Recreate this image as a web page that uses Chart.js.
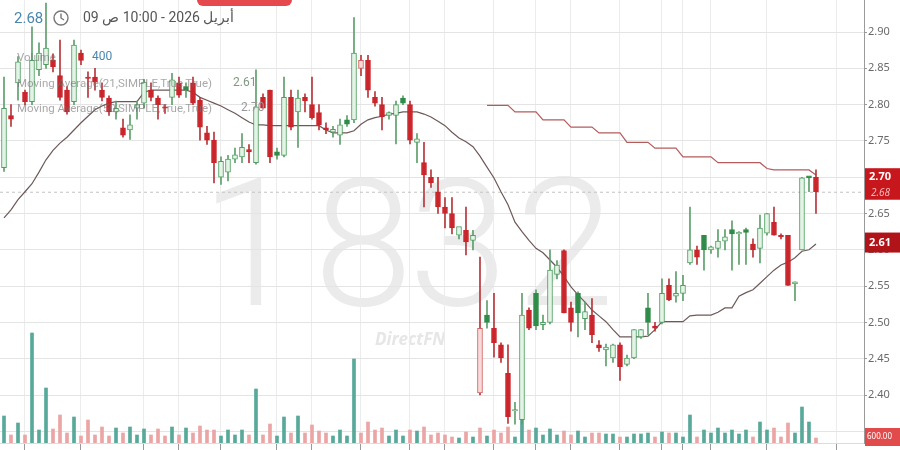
<!DOCTYPE html>
<html>
<head>
<meta charset="utf-8">
<script src="https://cdn.jsdelivr.net/npm/chart.js@4.4.1/dist/chart.umd.min.js"></script>
<style>
  body { margin: 0; background: #fff; font-family: Roboto, "Noto Sans", sans-serif; }
  #wrap { position: relative; width: 900px; height: 450px; overflow: hidden; }
  #chart { position: absolute; left: 0; top: 0; }
  .ov { position: absolute; white-space: nowrap; z-index: 2; }
  .leg { color: rgba(110, 110, 110, 0.6); font-size: 11.5px; }
</style>
</head>
<body>
<div id="wrap">
  <canvas id="chart" width="900" height="450"></canvas>
  <div class="ov" style="left:197px;top:-20px;width:95px;height:26px;background:#e5484d;border-radius:6px;"></div>
  <div class="ov" style="left:14px;top:9px;font-size:15px;color:#4a86ad;">2.68</div>
  <svg class="ov" style="left:52px;top:9px;" width="18" height="18" viewBox="0 0 18 18">
    <circle cx="9" cy="9" r="7" fill="none" stroke="#777" stroke-width="1.4"/>
    <path d="M9 4.5 V9 L12 11" fill="none" stroke="#777" stroke-width="1.4"/>
  </svg>
  <div class="ov" dir="rtl" style="left:83px;top:9px;font-size:14px;color:#555;">أبريل 2026 - 10:00 ص 09</div>
  <div class="ov leg" style="left:17px;top:50px;">Volume</div>
  <div class="ov" style="left:92px;top:49px;font-size:12px;color:#4a86ad;">400</div>
  <div class="ov leg" style="left:17px;top:76px;">Moving Average(21,SIMPLE,True,True)</div>
  <div class="ov" style="left:233px;top:75px;font-size:12px;color:#7f9a82;">2.61</div>
  <div class="ov leg" style="left:17px;top:101px;">Moving Average(50,SIMPLE,True,True)</div>
  <div class="ov" style="left:241px;top:100px;font-size:12px;color:#999;">2.70</div>
</div>
<script>
// daily candles, left to right
const opens = [2.713,2.785,2.830,2.817,2.804,2.848,2.855,2.861,2.840,2.820,
  2.804,2.871,2.838,2.838,2.820,2.809,2.790,2.768,2.765,2.795,
  2.802,2.820,2.809,2.797,2.810,2.830,2.825,2.830,2.806,2.761,
  2.751,2.700,2.707,2.725,2.728,2.738,2.720,2.810,2.820,2.735,
  2.730,2.810,2.790,2.810,2.800,2.789,2.768,2.762,2.758,2.779,
  2.779,2.850,2.861,2.810,2.800,2.785,2.785,2.809,2.800,2.748,
  2.720,2.700,2.680,2.659,2.650,2.620,2.627,2.613,2.403,2.510,
  2.492,2.469,2.430,2.378,2.366,2.517,2.540,2.497,2.500,2.566,
  2.599,2.520,2.540,2.505,2.510,2.469,2.462,2.451,2.469,2.442,
  2.451,2.480,2.520,2.495,2.500,2.551,2.536,2.540,2.582,2.600,
  2.620,2.600,2.602,2.612,2.628,2.622,2.628,2.608,2.602,2.623,
  2.638,2.620,2.620,2.553,2.600,2.702,2.700];
const highs = [2.838,2.800,2.866,2.820,2.907,2.885,2.940,2.870,2.889,2.825,
  2.889,2.875,2.845,2.850,2.830,2.812,2.805,2.780,2.786,2.805,
  2.835,2.830,2.812,2.800,2.843,2.838,2.830,2.838,2.810,2.770,
  2.762,2.728,2.730,2.740,2.760,2.745,2.848,2.815,2.820,2.740,
  2.838,2.820,2.820,2.815,2.838,2.800,2.775,2.770,2.780,2.785,
  2.920,2.868,2.868,2.818,2.810,2.790,2.805,2.812,2.805,2.760,
  2.748,2.710,2.700,2.672,2.672,2.630,2.659,2.627,2.590,2.530,
  2.540,2.472,2.469,2.390,2.540,2.520,2.545,2.510,2.600,2.585,
  2.600,2.528,2.542,2.528,2.533,2.475,2.470,2.470,2.472,2.455,
  2.490,2.490,2.540,2.500,2.560,2.560,2.570,2.565,2.659,2.605,
  2.620,2.605,2.628,2.628,2.640,2.625,2.630,2.615,2.648,2.650,
  2.659,2.622,2.620,2.556,2.700,2.701,2.710];
const lows = [2.708,2.770,2.806,2.800,2.800,2.840,2.850,2.845,2.806,2.787,
  2.800,2.855,2.810,2.820,2.805,2.785,2.780,2.755,2.752,2.780,
  2.795,2.805,2.780,2.788,2.800,2.810,2.810,2.800,2.751,2.745,
  2.692,2.690,2.695,2.720,2.720,2.720,2.718,2.795,2.720,2.725,
  2.728,2.765,2.741,2.790,2.780,2.765,2.760,2.755,2.745,2.770,
  2.775,2.840,2.810,2.798,2.765,2.780,2.746,2.800,2.746,2.720,
  2.659,2.686,2.650,2.630,2.622,2.615,2.593,2.600,2.400,2.492,
  2.452,2.445,2.361,2.360,2.360,2.490,2.490,2.490,2.498,2.560,
  2.513,2.488,2.480,2.490,2.472,2.460,2.440,2.445,2.420,2.440,
  2.450,2.478,2.483,2.488,2.498,2.530,2.528,2.530,2.580,2.580,
  2.572,2.595,2.590,2.600,2.572,2.580,2.580,2.590,2.582,2.620,
  2.620,2.615,2.551,2.530,2.600,2.680,2.650];
const closes = [2.795,2.780,2.859,2.804,2.861,2.871,2.878,2.852,2.810,2.790,
  2.882,2.861,2.836,2.831,2.810,2.790,2.795,2.758,2.772,2.800,
  2.831,2.810,2.800,2.795,2.834,2.813,2.820,2.802,2.769,2.751,
  2.720,2.722,2.725,2.731,2.741,2.735,2.797,2.795,2.728,2.730,
  2.810,2.769,2.809,2.805,2.782,2.772,2.765,2.766,2.772,2.773,
  2.871,2.861,2.820,2.802,2.783,2.789,2.800,2.802,2.751,2.753,
  2.703,2.692,2.659,2.650,2.630,2.632,2.611,2.620,2.492,2.500,
  2.472,2.451,2.370,2.380,2.510,2.492,2.495,2.500,2.572,2.579,
  2.513,2.500,2.513,2.515,2.483,2.465,2.466,2.469,2.439,2.451,
  2.490,2.490,2.500,2.492,2.540,2.531,2.540,2.551,2.600,2.590,
  2.600,2.604,2.612,2.618,2.622,2.624,2.624,2.600,2.630,2.650,
  2.620,2.618,2.551,2.556,2.699,2.699,2.680];
const volumes = [270,80,200,80,1100,130,550,140,280,100,
  260,70,230,80,160,70,150,100,160,80,
  140,80,140,70,160,80,150,100,170,130,
  130,70,130,80,130,80,540,80,190,70,
  260,100,270,100,180,120,100,70,130,70,
  840,100,210,130,150,70,130,70,130,120,
  160,80,100,80,60,50,110,60,150,70,
  130,100,160,60,260,130,150,80,140,80,
  120,80,120,60,100,100,90,90,60,60,
  90,90,100,60,110,100,100,60,280,60,
  130,100,150,100,130,90,130,60,210,130,
  150,60,200,100,360,210,50];
// moving averages as drawn
const ma21 = [2.644,2.655,2.669,2.680,2.691,2.707,2.724,2.737,2.747,2.755,
  2.765,2.775,2.784,2.793,2.798,2.802,2.804,2.804,2.804,2.804,
  2.817,2.820,2.820,2.820,2.820,2.820,2.820,2.817,2.810,2.806,
  2.802,2.798,2.793,2.788,2.782,2.776,2.772,2.772,2.771,2.771,
  2.771,2.771,2.771,2.771,2.771,2.771,2.765,2.761,2.761,2.761,
  2.764,2.773,2.779,2.782,2.784,2.787,2.788,2.790,2.790,2.790,
  2.787,2.783,2.777,2.771,2.762,2.754,2.749,2.742,2.729,2.714,
  2.699,2.680,2.662,2.638,2.625,2.613,2.602,2.596,2.586,2.576,
  2.563,2.549,2.538,2.528,2.517,2.509,2.501,2.490,2.480,2.480,
  2.480,2.480,2.481,2.490,2.501,2.501,2.501,2.501,2.509,2.510,
  2.510,2.510,2.514,2.520,2.520,2.536,2.541,2.545,2.554,2.563,
  2.572,2.579,2.583,2.589,2.598,2.600,2.608];
const ma50 = [null,null,null,null,null,null,null,null,null,null,
  null,null,null,null,null,null,null,null,null,null,
  null,null,null,null,null,null,null,null,null,null,
  null,null,null,null,null,null,null,null,null,null,
  null,null,null,null,null,null,null,null,null,null,
  null,null,null,null,null,null,null,null,null,null,
  null,null,null,null,null,null,null,null,null,2.799,
  2.799,2.799,2.799,2.790,2.790,2.790,2.790,2.779,2.779,2.779,
  2.779,2.769,2.769,2.769,2.769,2.761,2.761,2.761,2.761,2.748,
  2.748,2.748,2.748,2.740,2.740,2.740,2.740,2.728,2.728,2.728,
  2.728,2.728,2.720,2.720,2.720,2.720,2.720,2.720,2.720,2.712,
  2.710,2.710,2.710,2.710,2.710,2.710,2.703];
const priceTicks = [2.35,2.40,2.45,2.50,2.55,2.60,2.65,2.70,2.75,2.80,2.85,2.90];
const dateLines = [0,6,16,24,26,36,42,46,56,60,66,74,78,84,92,96,98,104,114];

const idx = opens.map((_, i) => i);
const last = closes.length - 1;
const isUp = i => i === 0 || closes[i] >= closes[i - 1];
const isHollow = i => closes[i] > opens[i];

const bodyFill = idx.map(i => isHollow(i) ? (isUp(i) ? '#e3f3e6' : '#f8dada') : (isUp(i) ? '#2e8b48' : '#c9252b'));
const bodyBorder = idx.map(i => isUp(i) ? (isHollow(i) ? '#4f9e61' : '#2e8b48') : (isHollow(i) ? '#d26262' : '#c9252b'));
const wickColor = idx.map(i => isUp(i) ? '#5d9f6b' : '#b8353a');
const volColor = idx.map(i => isUp(i) ? '#58a99a' : '#eba5a5');

const overlay = {
  id: 'overlay',
  beforeDraw(chart) {
    const ctx = chart.ctx;
    ctx.save();
    // watermark, digit by digit
    ctx.fillStyle = '#ebebeb';
    ctx.font = '300 178px Roboto';
    ctx.textAlign = 'center';
    ctx.textBaseline = 'alphabetic';
    const wmX = [250, 363, 458, 565];
    '1832'.split('').forEach((d, k) => ctx.fillText(d, wmX[k], 305));
    ctx.fillStyle = '#e6e6e6';
    ctx.font = 'italic bold 17px "Open Sans"';
    ctx.textBaseline = 'middle';
    ctx.fillText('DirectFN', 410, 340);
    ctx.restore();
  },
  beforeDatasetsDraw(chart) {
    const ctx = chart.ctx, a = chart.chartArea;
    const y = chart.scales.y.getPixelForValue(closes[last]);
    ctx.save();
    ctx.strokeStyle = '#c4c4c4';
    ctx.setLineDash([3, 3]);
    ctx.beginPath();
    ctx.moveTo(a.left, y + 0.5);
    ctx.lineTo(a.right, y + 0.5);
    ctx.stroke();
    ctx.restore();
  },
  afterDraw(chart) {
    const ctx = chart.ctx, ys = chart.scales.y;
    const x0 = chart.chartArea.right + 1;
    const yMa = ys.getPixelForValue(2.70), yC = ys.getPixelForValue(closes[last]);
    const y21 = ys.getPixelForValue(2.61);
    ctx.save();
    ctx.fillStyle = '#c8161d';
    ctx.fillRect(x0, yMa - 9, 900 - x0, yC + 8 - (yMa - 9));
    ctx.fillStyle = '#b01419';
    ctx.fillRect(x0, y21 - 10, 900 - x0, 20);
    ctx.fillStyle = '#e24b4b';
    ctx.fillRect(x0, 428, 900 - x0, 18);
    ctx.textBaseline = 'middle';
    ctx.textAlign = 'left';
    ctx.fillStyle = '#fff';
    ctx.font = 'bold 11px "Noto Sans"';
    ctx.fillText('2.70', x0 + 4, yMa);
    ctx.fillText('2.61', x0 + 4, y21);
    ctx.fillStyle = '#f5b5b5';
    ctx.font = 'italic 10px "Noto Sans"';
    ctx.fillText(closes[last].toFixed(2), x0 + 6, yC + 1);
    ctx.fillStyle = '#fff';
    ctx.font = '8px "Noto Sans"';
    ctx.fillText('600.00', x0 + 2, 437);
    ctx.restore();
  }
};

new Chart(document.getElementById('chart'), {
  type: 'bar',
  data: {
    datasets: [
      {
        type: 'bar', label: 'Volume', yAxisID: 'yv', order: 10,
        data: idx.map(i => ({ x: i, y: volumes[i] })),
        backgroundColor: volColor, barThickness: 3, grouped: false
      },
      {
        type: 'line', label: 'MA slow', yAxisID: 'y', order: 8,
        data: idx.map(i => ({ x: i, y: ma50[i] })),
        borderColor: '#b45c5c', borderWidth: 1.2, pointRadius: 0, tension: 0
      },
      {
        type: 'line', label: 'MA 21', yAxisID: 'y', order: 8,
        data: idx.map(i => ({ x: i, y: ma21[i] })),
        borderColor: '#6f5858', borderWidth: 1.2, pointRadius: 0, tension: 0
      },
      {
        type: 'bar', label: 'wick', yAxisID: 'y', order: 6,
        data: idx.map(i => ({ x: i, y: [lows[i], highs[i]] })),
        backgroundColor: wickColor, barThickness: 1, grouped: false
      },
      {
        type: 'bar', label: 'body', yAxisID: 'y', order: 4,
        data: idx.map(i => ({ x: i, y: [opens[i], closes[i]] })),
        backgroundColor: bodyFill, borderColor: bodyBorder, borderWidth: 1,
        borderSkipped: false, barThickness: 5, grouped: false, minBarLength: 1
      }
    ]
  },
  options: {
    responsive: false,
    animation: false,
    devicePixelRatio: 1,
    layout: { padding: 0 },
    plugins: { legend: { display: false }, tooltip: { enabled: false } },
    scales: {
      x: {
        type: 'linear', min: -0.571, max: 122.86, offset: false,
        afterBuildTicks: s => { s.ticks = dateLines.map(v => ({ value: v })); },
        afterFit: s => { s.height = 7; s.paddingLeft = 0; s.paddingRight = 0; },
        ticks: { display: false },
        grid: { color: '#ececec', tickColor: '#999', tickLength: 7 },
        border: { color: '#dcdcdc' }
      },
      y: {
        position: 'right', min: 2.3339, max: 2.9441,
        afterBuildTicks: s => { s.ticks = priceTicks.map(v => ({ value: v })); },
        afterFit: s => { s.width = 36; s.paddingTop = 0; s.paddingBottom = 0; },
        ticks: {
          color: '#6a6a6a', padding: 1, font: { family: 'Noto Sans', size: 11 },
          callback: v => v < 2.37 ? '' : v.toFixed(2)
        },
        grid: { color: '#e4e4e4', tickColor: '#999', tickLength: 3 },
        border: { color: '#9a9a9a' }
      },
      yv: { display: false, min: 0, max: 4430 }
    }
  },
  plugins: [overlay]
});
</script>
</body>
</html>
